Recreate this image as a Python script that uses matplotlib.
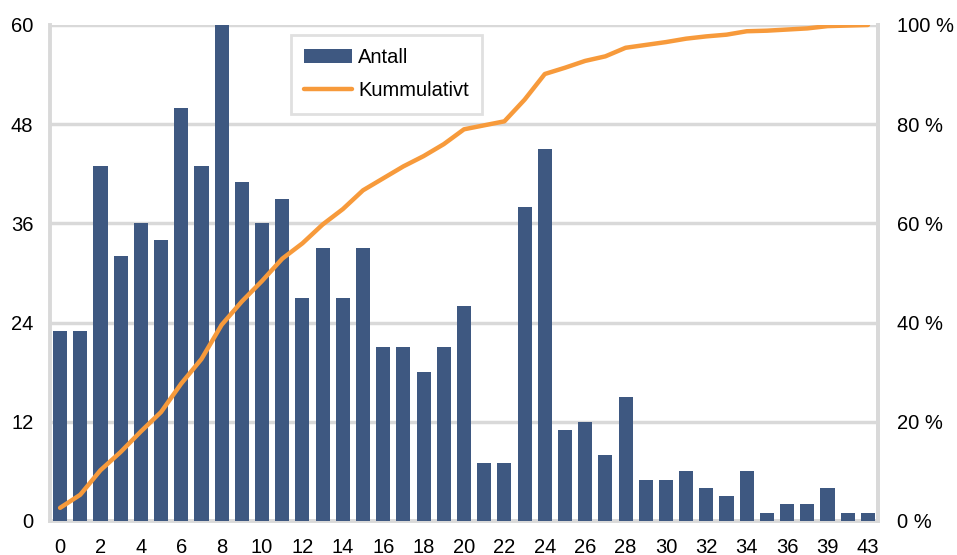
import numpy as np
import matplotlib
matplotlib.use("Agg")
import matplotlib.pyplot as plt
from matplotlib.ticker import FuncFormatter

plt.rcParams['font.family'] = ['Liberation Sans', 'DejaVu Sans']

categories = [str(i) for i in range(37)] + ["37", "39", "41", "43"]
antall = [23, 23, 43, 32, 36, 34, 50, 43, 60, 41, 36, 39, 27, 33, 27, 33,
          21, 21, 18, 21, 26, 7, 7, 38, 45, 11, 12, 8, 15, 5, 5, 6, 4, 3,
          6, 1, 2, 2, 4, 1, 1]
cum_pct = np.cumsum(antall) / np.sum(antall) * 100

bar_color = "#3e5881"
line_color = "#f79a3b"
grid_color = "#d9d9d9"
fs = 14.5

fig = plt.figure(figsize=(9.57, 5.55), dpi=100)
ax = fig.add_axes([0.0522, 0.0613, 0.8653, 0.8937])
x = np.arange(len(categories))

bars = ax.bar(x, antall, width=0.7, color=bar_color, zorder=3, label="Antall")
ax.set_xlim(-0.5, len(categories) - 0.5)
ax.set_ylim(0, 60)
ax.set_yticks([0, 12, 24, 36, 48, 60])
ax.set_xticks(x[::2])
ax.set_xticklabels(categories[::2])
ax.yaxis.grid(True, color=grid_color, linewidth=2.5, zorder=0)
ax.set_axisbelow(True)
ax.spines["top"].set_visible(False)
for s in ["left", "right", "bottom"]:
    ax.spines[s].set_color(grid_color)
    ax.spines[s].set_linewidth(2.8)
ax.tick_params(axis="both", length=0, labelsize=fs, colors="black")
ax.tick_params(axis="y", pad=12)
ax.tick_params(axis="x", pad=12)

ax2 = ax.twinx()
line, = ax2.plot(x, cum_pct, color=line_color, linewidth=3.2, zorder=4,
                 label="Kummulativt", solid_capstyle="round")
ax2.set_ylim(0, 100)
ax2.set_yticks([0, 20, 40, 60, 80, 100])
ax2.yaxis.set_major_formatter(FuncFormatter(lambda v, p: f"{int(v)} %"))
ax2.tick_params(axis="y", length=0, labelsize=fs, pad=14)
for s in ["top", "left", "bottom"]:
    ax2.spines[s].set_visible(False)
ax2.spines["right"].set_color(grid_color)
ax2.spines["right"].set_linewidth(2.8)

leg = ax2.legend([bars, line], ["Antall", "Kummulativt"],
                 loc="upper left", bbox_to_anchor=(0.2907, 0.98),
                 borderaxespad=0,
                 fontsize=fs, frameon=True, fancybox=False,
                 handlelength=2.4, handletextpad=0.3, borderpad=0.65,
                 labelspacing=0.72)
leg.get_frame().set_edgecolor(grid_color)
leg.get_frame().set_linewidth(2)

fig.savefig("out.png", dpi=100)
